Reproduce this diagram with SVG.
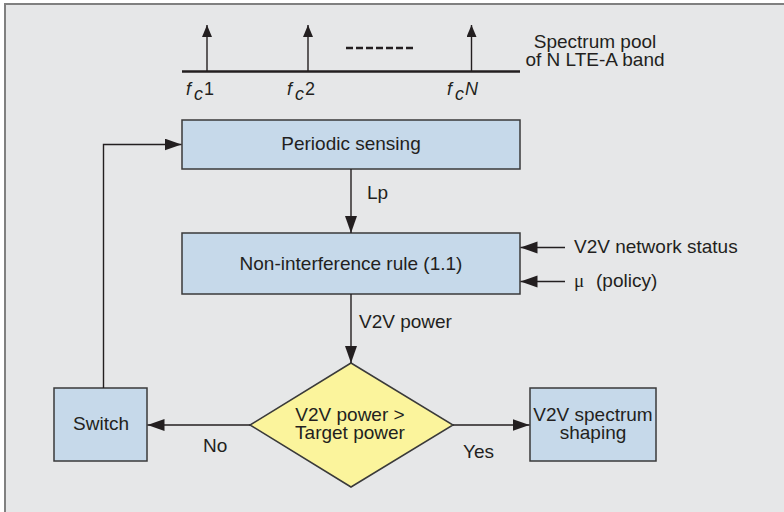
<svg xmlns="http://www.w3.org/2000/svg" width="784" height="512" viewBox="0 0 784 512">
<style>
  text { font-family: "Liberation Sans", Arial, sans-serif; font-size: 19px; fill: #231f20; }
  .mid { text-anchor: middle; }
  .fc { font-size: 18px; }
  .box { fill: #c6d9ea; stroke: #3a3a3a; stroke-width: 1.5; }
  .dia { fill: #fbf49c; stroke: #3a3a3a; stroke-width: 1.5; }
  .ln { fill: none; stroke: #231f20; stroke-width: 1.4; }
  .it { font-style: italic; }
</style>
<defs>
  <marker id="ah" markerUnits="userSpaceOnUse" markerWidth="18" markerHeight="13" refX="17" refY="6" orient="auto">
    <path d="M0,0 L17,6 L0,12 z" fill="#231f20"/>
  </marker>
  <marker id="ahs" markerUnits="userSpaceOnUse" markerWidth="13" markerHeight="11" refX="12" refY="5" orient="auto">
    <path d="M0,0 L12,5 L0,10 z" fill="#231f20"/>
  </marker>
</defs>
<rect x="0" y="0" width="784" height="512" fill="#ffffff"/>
<rect x="5" y="4" width="779" height="508" fill="#e6e7e8"/>
<path d="M5,512 V4 H784" fill="none" stroke="#808080" stroke-width="2"/>

<g id="spectrum">
  <line x1="182" y1="71.5" x2="520" y2="71.5" stroke="#231f20" stroke-width="2.5"/>
  <line class="ln" x1="207" y1="71" x2="207" y2="25" marker-end="url(#ahs)"/>
  <line class="ln" x1="308" y1="71" x2="308" y2="25" marker-end="url(#ahs)"/>
  <line class="ln" x1="471.5" y1="71" x2="471.5" y2="25" marker-end="url(#ahs)"/>
  <line x1="346" y1="48" x2="413" y2="48" stroke="#231f20" stroke-width="2.5" stroke-dasharray="7 3"/>
  <text class="fc" x="186" y="94.5"><tspan class="it">f</tspan><tspan class="it" dx="3" dy="5">c</tspan><tspan dx="1" dy="-5">1</tspan></text>
  <text class="fc" x="287" y="94.5"><tspan class="it">f</tspan><tspan class="it" dx="3" dy="5">c</tspan><tspan dx="1" dy="-5">2</tspan></text>
  <text class="fc" x="447" y="94.5"><tspan class="it">f</tspan><tspan class="it" dx="3" dy="5">c</tspan><tspan class="it" dx="1" dy="-5">N</tspan></text>
  <text class="mid" x="595" y="48">Spectrum pool</text>
  <text class="mid" x="595" y="65.5">of N LTE-A band</text>
</g>

<g id="periodic-sensing">
  <rect class="box" x="182" y="120" width="338" height="49"/>
  <text class="mid" x="351" y="150">Periodic sensing</text>
</g>

<g id="non-interference">
  <rect class="box" x="182" y="233" width="338" height="61"/>
  <text class="mid" x="351" y="270">Non-interference rule (1.1)</text>
</g>

<g id="decision">
  <polygon class="dia" points="351,363 453,425 351,487 250,425"/>
  <text class="mid" x="350" y="420.7">V2V power &gt;</text>
  <text class="mid" x="350" y="439.3">Target power</text>
</g>

<g id="switch">
  <rect class="box" x="54" y="388" width="93" height="73"/>
  <text class="mid" x="101" y="430">Switch</text>
</g>

<g id="shaping">
  <rect class="box" x="530" y="388" width="126" height="73"/>
  <text class="mid" x="593" y="420.7">V2V spectrum</text>
  <text class="mid" x="593" y="439.3">shaping</text>
</g>

<g id="inputs">
  <text x="574" y="253">V2V network status</text>
  <text x="574" y="287" style="font-family:'Liberation Serif',serif">μ</text>
  <text x="596" y="287">(policy)</text>
</g>

<g id="connectors">
  <line class="ln" x1="351" y1="169" x2="351" y2="233" marker-end="url(#ah)"/>
  <line class="ln" x1="351" y1="294" x2="351" y2="363" marker-end="url(#ah)"/>
  <line class="ln" x1="565" y1="247.5" x2="520.5" y2="247.5" marker-end="url(#ah)"/>
  <line class="ln" x1="565" y1="281.5" x2="520.5" y2="281.5" marker-end="url(#ah)"/>
  <line class="ln" x1="250" y1="425" x2="147.5" y2="425" marker-end="url(#ah)"/>
  <line class="ln" x1="453" y1="425" x2="529.5" y2="425" marker-end="url(#ah)"/>
  <polyline class="ln" points="103.5,388 103.5,144.5 181.5,144.5" marker-end="url(#ah)"/>
  <text x="367" y="199">Lp</text>
  <text x="359" y="328">V2V power</text>
  <text x="203" y="452">No</text>
  <text x="463" y="458">Yes</text>
</g>
</svg>
